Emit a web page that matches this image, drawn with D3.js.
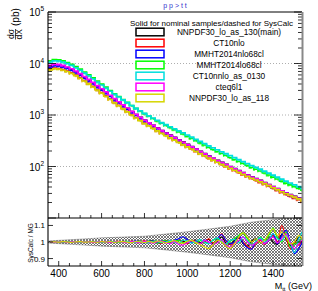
<!DOCTYPE html>
<html><head><meta charset="utf-8">
<script src="https://cdn.jsdelivr.net/npm/d3@7"></script>
<style>body{margin:0;background:#fff}svg{display:block}text{font-family:"Liberation Sans",Arial,Helvetica,sans-serif}</style>
</head><body><svg id="c" width="318" height="291"></svg>
<script>
// ---------------- data ----------------
const binStart = 350, binWidth = 20;   // GeV
const seriesNames = ["NNPDF30_lo_as_130(main)","CT10nlo","MMHT2014nlo68cl","MMHT2014lo68cl","CT10nnlo_as_0130","cteq6l1","NNPDF30_lo_as_118"];
const seriesColors = ["#000000","#ff0000","#0000ff","#00ff00","#00dede","#ff00ff","#d6d600"];

const nnpdf130 = [8910,9440,9330,8910,8320,7670,6920,6170,5430,4790,4170,3630,3160,2750,2370,2040,1780,1550,1350,1170,1020,902,794,708,631,562,501,452,407,367,331,299,269,243,219,197,178,160,145,132,120,110,100,91.2,83.2,75.9,69.2,63.1,58.2,53.7,49.0,44.7,40.7,37.2,33.9,30.9,28.5,26.3,24.3,22.4];
const ct10nlo = [7660,8120,8020,7660,7160,6600,5950,5310,4670,4120,3590,3120,2720,2370,2040,1760,1540,1345,1175,1020,893,792,699,625,559,499,446,404,364,329,298,270,243,220,199,179,162,146,133,121,110,101,92.1,84.1,76.8,70.2,64.1,58.5,54.0,49.9,45.6,41.6,37.9,34.6,31.5,28.7,26.5,24.5,22.6,20.8];
const mmht14nlo = [8550,9060,8960,8550,7990,7360,6640,5920,5210,4600,4000,3490,3040,2640,2280,1960,1710,1490,1300,1125,982,869,765,683,609,543,484,437,394,355,321,290,261,236,213,192,173,156,141,129,117,108,98.0,89.4,81.5,74.4,67.8,61.8,57.0,52.6,48.0,43.8,39.9,36.5,33.2,30.3,27.9,25.8,23.8,22.0];
const mmht14lo = [11230,11890,11760,11230,10480,9660,8720,7770,6840,6040,5250,4570,3980,3470,2990,2590,2280,2000,1755,1533,1346,1200,1064,956,858,770,691,628,570,517,470,428,387,351,318,287,261,235,214,196,179,164,150,137,125,115,105,95.6,88.3,81.7,74.7,68.3,62.3,57.0,52.1,47.6,43.9,40.6,37.6,34.7];
const ct10nnlo130 = [10670,11300,11170,10670,9960,9180,8280,7380,6500,5740,4990,4364,3821,3349,2900,2525,2234,1970,1737,1525,1346,1206,1075,970,875,789,712,650,593,540,494,452,410,373,339,307,280,253,231,212,194,178,164,149,136,125,114,104,96.2,89.1,81.4,74.4,67.9,62.1,56.8,51.9,47.9,44.3,41.0,37.8];
const cteq6l1 = [9180,9720,9610,9180,8570,7900,7130,6360,5590,4930,4300,3730,3240,2810,2420,2080,1810,1570,1370,1180,1030,905,794,706,628,558,497,448,403,363,328,296,266,241,217,195,176,158,144,131,119,109,99.0,90.3,82.4,75.1,68.5,62.5,57.6,53.2,48.5,44.3,40.3,36.8,33.6,30.6,28.2,26.0,24.1,22.2];
const nnpdf118 = [7480,7930,7840,7480,6990,6440,5810,5180,4560,4020,3500,3050,2660,2320,2000,1725,1510,1320,1150,1000,876,777,686,614,549,491,439,398,359,325,294,266,240,218,198,178,162,146,133,121,110,101,92.5,84.6,77.4,70.8,64.7,59.2,54.8,50.7,46.4,42.5,38.8,35.5,32.4,29.6,27.4,25.4,23.5,21.7];

// SysCalc / MG ratios per bin
const rNnpdf130 = [1.000,1.002,0.998,1.001,0.999,1.002,1.000,0.998,1.003,1.000,0.999,1.002,1.001,0.997,1.003,1.000,0.998,1.004,1.001,0.997,1.002,1.005,0.996,1.003,1.008,0.998,0.994,1.006,1.002,0.995,1.010,1.004,0.992,1.006,1.012,0.996,1.004,1.015,0.990,1.008,1.030,0.995,0.985,1.010,1.025,0.990,0.975,1.005,1.020,0.995,1.010,1.030,1.000,0.985,1.045,1.020,0.980,0.990,1.030,1.010];
const rCt10nlo = [1.001,0.999,1.002,1.000,0.998,1.001,1.003,0.999,1.000,1.002,0.998,1.001,1.003,0.999,0.997,1.002,1.004,0.998,1.001,1.005,0.996,1.002,1.007,0.995,1.004,1.002,0.992,1.008,1.001,0.996,1.012,0.998,0.990,1.010,1.004,0.992,1.000,1.020,0.995,1.010,1.050,1.005,0.985,0.995,1.030,1.000,0.975,0.960,0.990,1.010,0.985,1.020,1.040,1.000,1.100,1.030,0.960,1.000,0.980,1.020];
const rMmht14nlo = [0.999,1.001,1.000,0.998,1.002,1.001,0.999,1.003,0.998,1.000,1.002,0.999,0.997,1.002,1.004,0.998,1.000,1.003,0.997,1.002,1.006,0.998,0.995,1.006,1.003,0.995,1.008,1.002,0.994,1.010,1.020,1.032,1.015,0.995,1.005,0.990,1.012,1.000,0.985,1.020,1.045,1.010,0.990,1.000,1.040,0.995,0.965,0.958,1.000,1.020,0.990,1.010,1.050,0.990,1.040,1.070,1.000,0.930,0.960,1.010];
const rMmht14lo = [1.000,1.003,0.998,1.001,1.002,0.999,1.001,0.998,1.002,1.000,1.003,0.999,1.001,0.997,1.002,1.003,0.998,1.000,1.004,0.997,1.001,1.004,0.996,1.005,1.000,0.993,1.006,1.008,0.996,1.002,1.010,0.995,1.004,1.010,0.992,1.008,1.000,0.990,1.010,1.020,1.000,0.985,1.005,1.020,1.040,1.055,1.020,0.985,1.000,1.030,1.010,1.040,1.085,1.030,1.000,1.060,0.970,0.990,1.000,1.030];
const rCt10nnlo130 = [1.000,0.998,1.002,1.001,0.999,1.000,1.002,0.999,1.001,0.998,1.000,1.003,0.999,1.001,0.997,1.003,1.001,0.998,1.002,1.000,0.996,1.004,1.002,0.995,1.006,1.004,0.996,1.000,1.010,0.997,0.994,1.012,1.005,0.993,1.004,1.015,0.998,0.990,1.012,1.025,1.005,0.988,1.010,1.015,0.995,1.030,1.010,0.980,1.005,1.025,1.000,1.015,1.050,1.020,1.010,1.040,1.000,0.935,1.020,1.070];
const rCteq6l1 = [1.001,0.999,1.000,1.002,0.998,1.001,1.000,1.002,0.999,1.001,0.998,1.000,1.002,1.001,0.997,1.000,1.003,0.999,0.996,1.003,1.001,0.995,1.004,1.002,0.993,1.001,1.006,0.996,0.990,1.004,0.985,0.982,0.995,1.008,0.998,0.990,1.010,1.000,0.985,0.995,1.015,0.980,0.970,0.990,1.010,1.030,1.000,0.980,0.995,1.015,0.990,1.010,1.030,0.995,1.020,1.050,1.000,0.960,0.990,1.020];
const rNnpdf118 = [1.000,1.001,0.999,1.002,1.000,0.998,1.001,1.002,0.999,1.000,1.001,0.998,1.002,1.000,1.003,0.998,1.001,1.002,0.999,0.996,1.003,1.001,0.997,1.004,0.998,1.006,1.002,0.995,1.003,1.008,0.998,0.992,1.004,1.010,0.995,0.985,0.970,0.960,0.985,1.010,1.000,0.975,0.960,0.990,1.030,1.055,1.030,1.000,1.020,0.995,1.010,1.050,1.080,1.040,1.060,1.030,0.990,1.000,1.040,1.010];

// uncertainty band of the ratio (half width)
const bandMass = [350,400,500,600,700,800,900,1000,1100,1200,1300,1400,1500,1550];
const bandErr  = [0.006,0.010,0.017,0.025,0.030,0.035,0.048,0.062,0.078,0.095,0.120,0.135,0.150,0.160];

const xTickValues = [400,600,800,1000,1200,1400];
const yDecades = [10,100,1000,10000,100000];
const ratioTickValues = [0.9,1,1.1];

const mainSeries = [nnpdf130,ct10nlo,mmht14nlo,mmht14lo,ct10nnlo130,cteq6l1,nnpdf118];
const ratioSeries = [rNnpdf130,rCt10nlo,rMmht14nlo,rMmht14lo,rCt10nnlo130,rCteq6l1,rNnpdf118];

// ---------------- layout ----------------
const svg = d3.select("#c");
const L = 48, R = 302, T = 12, MB = 218, RB = 266;
const x = d3.scaleLinear().domain([350, 1535]).range([L, R]);
const y = d3.scaleLog().domain([10, 1e5]).range([MB, T]);
const yr = d3.scaleLinear().domain([0.855, 1.145]).range([RB, MB]);

const defs = svg.append("defs");
defs.append("clipPath").attr("id","clipMain").append("rect").attr("x",L).attr("y",T).attr("width",R-L).attr("height",MB-T);
defs.append("clipPath").attr("id","clipRatio").append("rect").attr("x",L).attr("y",MB).attr("width",R-L).attr("height",RB-MB);
const pat = defs.append("pattern").attr("id","hatch").attr("patternUnits","userSpaceOnUse").attr("width",3).attr("height",3);
pat.append("path").attr("d","M0,0L3,3M3,0L0,3").attr("stroke","#444").attr("stroke-width",0.7);

// grid lines
svg.append("g").selectAll("line").data([100,1000,10000]).join("line")
  .attr("x1",L).attr("x2",R).attr("y1",d=>y(d)).attr("y2",d=>y(d))
  .attr("stroke","#999").attr("stroke-width",0.8).attr("stroke-dasharray","1,2");

// histograms
const stepLine = d3.line().x(d=>x(d[0])).y(d=>y(d[1]));
const gMain = svg.append("g").attr("clip-path","url(#clipMain)");
mainSeries.forEach((vals,k)=>{
  const pts = [];
  vals.forEach((v,i)=>{ const lo = binStart + i*binWidth; pts.push([lo,v],[lo+binWidth,v]); });
  gMain.append("path").attr("d",stepLine(pts)).attr("fill","none")
    .attr("stroke",seriesColors[k]).attr("stroke-width",1.6);
  gMain.append("path").attr("d",stepLine(pts)).attr("fill","none")
    .attr("stroke",seriesColors[k]).attr("stroke-width",1.6).attr("stroke-dasharray","3,2").attr("opacity",0.6)
    .attr("transform","translate(0,0.8)");
});

// main axes: left & right log ticks
const minorVals = [];
for (let d=10; d<1e5; d*=10) for (let m=2;m<=9;m++) minorVals.push(d*m);
const axG = svg.append("g").attr("stroke","#000").attr("stroke-width",0.8);
[L,R].forEach(px=>{
  const dir = px===L?1:-1;
  axG.selectAll(null).data(minorVals).join("line").attr("x1",px).attr("x2",px+dir*4).attr("y1",d=>y(d)).attr("y2",d=>y(d));
  axG.selectAll(null).data(yDecades).join("line").attr("x1",px).attr("x2",px+dir*8).attr("y1",d=>y(d)).attr("y2",d=>y(d));
});
// x ticks on main bottom
const xMinor = d3.range(400,1550,50);
axG.selectAll(null).data(xMinor).join("line").attr("x1",d=>x(d)).attr("x2",d=>x(d)).attr("y1",MB).attr("y2",d=>xTickValues.includes(d)?MB-5:MB-3);

// y labels main
const yl = svg.append("g");
yDecades.filter(d=>d>10).forEach(d=>{
  const t = yl.append("text").attr("x",44).attr("y",y(d)+4).attr("text-anchor","end").attr("font-size",10);
  t.append("tspan").text("10");
  t.append("tspan").attr("font-size",6.5).attr("dy",-5).text(String(Math.round(Math.log10(d))));
});

// y title
const yt = svg.append("g").attr("transform","translate(15,39) rotate(-90)");
yt.append("text").attr("x",0).attr("y",-1.5).attr("font-size",8.5).text("dσ");
yt.append("line").attr("x1",-0.5).attr("x2",10).attr("y1",0.5).attr("y2",0.5).attr("stroke","#000").attr("stroke-width",0.7);
yt.append("text").attr("x",-0.5).attr("y",7).attr("font-size",8.5).text("dX");
yt.append("text").attr("x",13).attr("y",3.5).attr("font-size",10).text("(pb)");

// frame
svg.append("line").attr("x1",L).attr("x2",L).attr("y1",T).attr("y2",RB).attr("stroke","#000").attr("stroke-width",1.1);
svg.append("line").attr("x1",L).attr("x2",R).attr("y1",T).attr("y2",T).attr("stroke","#000").attr("stroke-width",1);
svg.append("line").attr("x1",R+0.5).attr("x2",R+0.5).attr("y1",T).attr("y2",RB).attr("stroke","#888").attr("stroke-width",2);

// title
svg.append("text").attr("x",175).attr("y",8).attr("text-anchor","middle").attr("font-size",7).attr("fill","#3333cc").text("p p > t t");

// legend
const lg = svg.append("g");
lg.append("text").attr("x",130).attr("y",25.5).attr("font-size",7.5).attr("textLength",163).attr("lengthAdjust","spacingAndGlyphs")
  .text("Solid for nominal samples/dashed for SysCalc");
seriesNames.forEach((n,k)=>{
  const cy = 32 + k*11;
  lg.append("rect").attr("x",136).attr("y",cy-3.8).attr("width",28).attr("height",7.6)
    .attr("fill","#fff").attr("stroke",seriesColors[k]).attr("stroke-width",1.5);
  lg.append("text").attr("x",229).attr("y",cy+3).attr("text-anchor","middle").attr("font-size",8.3).text(n);
});

// ratio panel
const gR = svg.append("g").attr("clip-path","url(#clipRatio)");
const band = d3.area().x((d,i)=>x(bandMass[i])).y0((d)=>yr(1-d)).y1(d=>yr(1+d));
gR.append("path").attr("d",band(bandErr)).attr("fill","url(#hatch)").attr("stroke","#555").attr("stroke-width",0.4);
const rLine = d3.line().x((d,i)=>x(binStart+binWidth*(i+0.5))).y(d=>yr(d)).curve(d3.curveCatmullRom);
ratioSeries.forEach((vals,k)=>{
  gR.append("path").attr("d",rLine(vals)).attr("fill","none").attr("stroke",seriesColors[k]).attr("stroke-width",1.1);
});

// ratio separators
svg.append("line").attr("x1",L).attr("x2",R).attr("y1",MB).attr("y2",MB).attr("stroke","#000").attr("stroke-width",1.2);
svg.append("line").attr("x1",L).attr("x2",R).attr("y1",RB).attr("y2",RB).attr("stroke","#000").attr("stroke-width",1.2);

// ratio y ticks
const rg = svg.append("g");
ratioTickValues.forEach(v=>{
  rg.append("line").attr("x1",L).attr("x2",L+5).attr("y1",yr(v)).attr("y2",yr(v)).attr("stroke","#000").attr("stroke-width",0.8);
  rg.append("line").attr("x1",R).attr("x2",R-5).attr("y1",yr(v)).attr("y2",yr(v)).attr("stroke","#000").attr("stroke-width",0.8);
  rg.append("text").attr("x",45).attr("y",yr(v)+3).attr("text-anchor","end").attr("font-size",8).text(String(v));
});
svg.append("text").attr("transform","translate(33,243) rotate(-90)").attr("text-anchor","middle").attr("font-size",6.5).text("SysCalc / MG");

// ratio x axis
xMinor.forEach(d=>{
  rg.append("line").attr("x1",x(d)).attr("x2",x(d)).attr("y1",RB).attr("y2",xTickValues.includes(d)?RB-5:RB-3).attr("stroke","#000").attr("stroke-width",0.8);
});
xTickValues.forEach(d=>{
  rg.append("text").attr("x",x(d)).attr("y",277).attr("text-anchor","middle").attr("font-size",10).text(String(d));
});
const xt = svg.append("text").attr("x",312).attr("y",289).attr("text-anchor","end").attr("font-size",9);
xt.append("tspan").text("M");
xt.append("tspan").attr("font-size",6).attr("dy",2).text("tt");
xt.append("tspan").attr("dy",-2).text(" (GeV)");
</script>
</body></html>
